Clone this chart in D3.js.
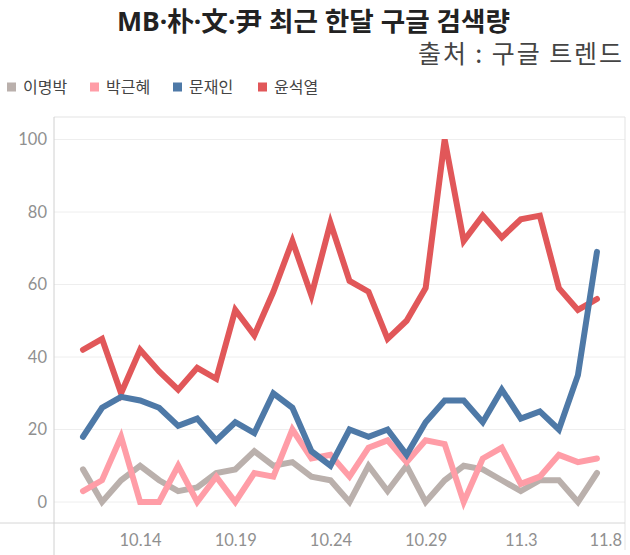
<!DOCTYPE html>
<html>
<head>
<meta charset="utf-8">
<script src="https://cdn.jsdelivr.net/npm/d3@7/dist/d3.min.js"></script>
<style>
  html, body { margin: 0; padding: 0; background: #fff; }
  svg { display: block; }
</style>
</head>
<body>
<svg id="chart" width="630" height="555"></svg>
<script>
// ---- data ----
const dates = ["10.11","10.12","10.13","10.14","10.15","10.16","10.17","10.18","10.19","10.20",
  "10.21","10.22","10.23","10.24","10.25","10.26","10.27","10.28","10.29","10.30",
  "10.31","11.1","11.2","11.3","11.4","11.5","11.6","11.7"];
const seriesNames = ["이명박", "박근혜", "문재인", "윤석열"];
const leeMB   = [9, 0, 6, 10, 6, 3, 4, 8, 9, 14, 10, 11, 7, 6, 0, 10, 3, 10, 0, 6, 10, 9, 6, 3, 6, 6, 0, 8];
const parkGH  = [3, 6, 18, 0, 0, 10, 0, 7, 0, 8, 7, 20, 12, 13, 7, 15, 17, 11, 17, 16, 0, 12, 15, 5, 7, 13, 11, 12];
const moonJI  = [18, 26, 29, 28, 26, 21, 23, 17, 22, 19, 30, 26, 14, 10, 20, 18, 20, 13, 22, 28, 28, 22, 31, 23, 25, 20, 35, 69];
const yoonSY  = [42, 45, 30, 42, 36, 31, 37, 34, 53, 46, 58, 72, 57, 77, 61, 58, 45, 50, 59, 100, 72, 79, 73, 78, 79, 59, 53, 56];
const yTicks = [0, 20, 40, 60, 80, 100];
const xTickLabels = ["10.14", "10.19", "10.24", "10.29", "11.3", "11.8"];
const colors = ["#bab0ac", "#ff9da7", "#4e79a7", "#e15759"];

// ---- setup ----
const parse = s => { const [m, d] = s.split(".").map(Number); return new Date(2021, m - 1, d); };
const svg = d3.select("#chart");
const plot = { left: 54, right: 625, top: 117, bottom: 523 };

const x = d3.scaleTime().domain([parse("10.11"), parse("11.8")]).range([83, 616]);
const y = d3.scaleLinear().domain([0, 100]).range([502, 139.5]);

// title: latin/middot from Noto Sans (narrow dot), hangul/hanja from CJK font
const title = svg.append("text").attr("x", 117).attr("y", 31)
  .attr("font-family", "'Noto Sans', 'Noto Sans CJK KR', sans-serif").attr("font-weight", "bold")
  .attr("font-size", 26).attr("fill", "#222")
  .text("MB·朴·文·尹 최근 한달 구글 검색량");
const tw = title.node().getComputedTextLength();
if (tw > 0) {
  const fs = Math.min(27, 26 * 393 / tw);
  title.attr("font-size", fs);
  title.attr("textLength", 393).attr("lengthAdjust", "spacing");
}
svg.append("text").attr("x", 418).attr("y", 63)
  .attr("font-family", "'Noto Sans CJK KR', 'Noto Sans', sans-serif")
  .attr("font-size", 25).attr("fill", "#444")
  .attr("textLength", 204).attr("lengthAdjust", "spacing")
  .text("출처 : 구글 트렌드");

// legend
const legendX = [7, 90, 173, 258];
const lg = svg.append("g").selectAll("g").data(seriesNames).join("g")
  .attr("transform", (d, i) => `translate(${legendX[i]},87)`);
lg.append("rect").attr("x", 0).attr("y", -4.5).attr("width", 9).attr("height", 9)
  .attr("fill", (d, i) => colors[i]);
lg.append("text").attr("x", 16).attr("y", 6)
  .attr("font-family", "'Noto Sans CJK KR', sans-serif").attr("font-size", 16)
  .attr("fill", "#444").text(d => d);

// frame & grid
const frame = svg.append("g");
frame.selectAll("line.grid").data(yTicks).join("line").attr("class", "grid")
  .attr("x1", plot.left).attr("x2", plot.right).attr("y1", d => y(d)).attr("y2", d => y(d))
  .attr("stroke", "#eeeeee").attr("stroke-width", 1);
frame.append("line").attr("x1", plot.left).attr("x2", plot.right).attr("y1", plot.top).attr("y2", plot.top)
  .attr("stroke", "#e3e3e3");
frame.append("line").attr("x1", plot.right).attr("x2", plot.right).attr("y1", plot.top).attr("y2", 550)
  .attr("stroke", "#e3e3e3");
frame.append("line").attr("x1", 0).attr("x2", plot.right).attr("y1", plot.bottom).attr("y2", plot.bottom)
  .attr("stroke", "#d6d6d6");
frame.append("line").attr("x1", plot.left).attr("x2", plot.left).attr("y1", plot.top).attr("y2", 555)
  .attr("stroke", "#d0d0d0");

// y axis
const yAxis = svg.append("g").attr("transform", `translate(${plot.left},0)`)
  .call(d3.axisLeft(y).tickValues(yTicks).tickSize(0).tickPadding(7));
yAxis.select(".domain").remove();
yAxis.selectAll("text").attr("font-family", "Lato, 'Open Sans', sans-serif").attr("font-size", 16.5)
  .attr("fill", "#909090");

// x axis
const xAxis = svg.append("g").attr("transform", `translate(0,${plot.bottom})`)
  .call(d3.axisBottom(x).tickValues(xTickLabels.map(parse)).tickSize(0).tickPadding(11)
    .tickFormat((d, i) => xTickLabels[i]));
xAxis.select(".domain").remove();
xAxis.selectAll("text").attr("font-family", "Lato, 'Open Sans', sans-serif").attr("font-size", 16.5)
  .attr("fill", "#909090");
xAxis.selectAll(".tick").each(function () {
  const t = d3.select(this).select("text");
  const cx = +d3.select(this).attr("transform").match(/translate\(([-\d.]+)/)[1];
  const w = t.node().getComputedTextLength();
  if (cx + w / 2 > 622) t.attr("dx", 622 - (cx + w / 2));
});

// lines
const allSeries = [leeMB, parkGH, yoonSY, moonJI];
const allColors = [colors[0], colors[1], colors[3], colors[2]];
const line = d3.line().x((d, i) => x(parse(dates[i]))).y(d => y(d));
svg.append("g").selectAll("path").data(allSeries).join("path")
  .attr("d", d => line(d))
  .attr("fill", "none")
  .attr("stroke", (d, i) => allColors[i])
  .attr("stroke-width", 6)
  .attr("stroke-linejoin", "miter")
  .attr("stroke-miterlimit", 4)
  .attr("stroke-linecap", "round");
</script>
</body>
</html>
